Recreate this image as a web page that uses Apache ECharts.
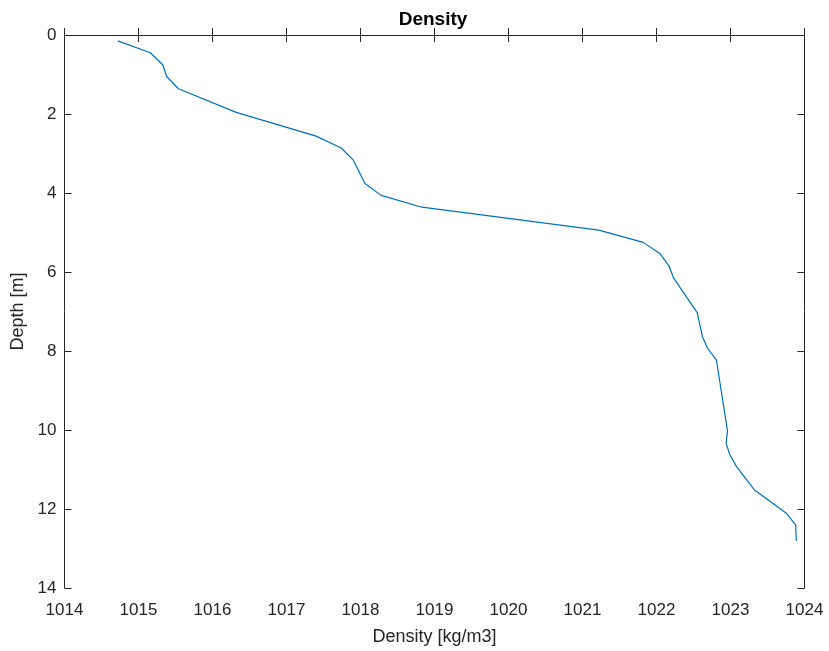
<!DOCTYPE html>
<html>
<head>
<meta charset="utf-8">
<script src="https://cdn.jsdelivr.net/npm/echarts@6/dist/echarts.min.js"></script>
<style>
  html, body { margin: 0; padding: 0; background: #fff; }
  #chart { width: 829px; height: 651px; }
</style>
</head>
<body>
<div id="chart"></div>
<script>
// Density profile: depth (m) and density (kg/m3) at each sample
const depth = [0.15, 0.45, 0.76, 1.05, 1.36, 1.96, 2.56, 2.86, 3.16, 3.76, 4.06, 4.36,
  4.94, 5.25, 5.54, 5.85, 6.15, 7.03, 7.63, 7.93, 8.23, 8.83, 10.03, 10.33, 10.62,
  10.92, 11.51, 12.10, 12.40, 12.81];
const density = [1014.72, 1015.16, 1015.33, 1015.38, 1015.54, 1016.32, 1017.40, 1017.74,
  1017.90, 1018.06, 1018.28, 1018.83, 1021.22, 1021.82, 1022.05, 1022.17, 1022.23,
  1022.55, 1022.62, 1022.69, 1022.81, 1022.86, 1022.96, 1022.94, 1022.99, 1023.08,
  1023.32, 1023.75, 1023.88, 1023.89];
const xTicks = [1014, 1015, 1016, 1017, 1018, 1019, 1020, 1021, 1022, 1023, 1024];
const yTicks = [0, 2, 4, 6, 8, 10, 12, 14];

const FONT = '"Liberation Sans", Arial, Helvetica, sans-serif';
const AXIS = '#262626';

const points = depth.map((d, i) => [density[i], d]);

const boxAxisLine = { show: true, lineStyle: { color: AXIS, width: 1 } };
const boxTick = { show: true, inside: true, length: 7, lineStyle: { color: AXIS, width: 1 } };

const chart = echarts.init(document.getElementById('chart'), null, { renderer: 'canvas' });
chart.setOption({
  animation: false,
  backgroundColor: '#ffffff',
  graphic: [
    {
      type: 'text',
      x: 433,
      y: 19.5,
      style: {
        text: 'Density',
        fontFamily: FONT,
        fontWeight: 'bold',
        fontSize: 19,
        fill: '#000',
        align: 'center',
        verticalAlign: 'middle'
      }
    }
  ],
  grid: { left: 64.5, right: 24.5, top: 35, bottom: 61, containLabel: false },
  xAxis: [
    {
      type: 'value',
      position: 'bottom',
      min: xTicks[0],
      max: xTicks[xTicks.length - 1],
      interval: 1,
      name: 'Density [kg/m3]',
      nameLocation: 'middle',
      nameGap: 40,
      nameTextStyle: { fontFamily: FONT, fontSize: 18, color: AXIS },
      axisLine: boxAxisLine,
      axisTick: boxTick,
      splitLine: { show: false },
      axisLabel: { fontFamily: FONT, fontSize: 17, color: AXIS, margin: 14,
        formatter: v => String(v) }
    },
    {
      type: 'value',
      position: 'top',
      min: xTicks[0],
      max: xTicks[xTicks.length - 1],
      interval: 1,
      axisLine: boxAxisLine,
      axisTick: boxTick,
      axisLabel: { show: false },
      splitLine: { show: false }
    }
  ],
  yAxis: [
    {
      type: 'value',
      position: 'left',
      inverse: true,
      min: yTicks[0],
      max: yTicks[yTicks.length - 1],
      interval: 2,
      name: 'Depth [m]',
      nameLocation: 'middle',
      nameGap: 35,
      nameRotate: 90,
      nameTextStyle: { fontFamily: FONT, fontSize: 18, color: AXIS },
      axisLine: boxAxisLine,
      axisTick: boxTick,
      splitLine: { show: false },
      axisLabel: { fontFamily: FONT, fontSize: 17, color: AXIS, margin: 8 }
    },
    {
      type: 'value',
      position: 'right',
      inverse: true,
      min: yTicks[0],
      max: yTicks[yTicks.length - 1],
      interval: 2,
      axisLine: boxAxisLine,
      axisTick: boxTick,
      axisLabel: { show: false },
      splitLine: { show: false }
    }
  ],
  series: [
    {
      type: 'line',
      xAxisIndex: 0,
      yAxisIndex: 0,
      data: points,
      showSymbol: false,
      symbol: 'none',
      lineStyle: { color: '#0072BD', width: 1.2 },
      silent: true
    }
  ]
});
</script>
</body>
</html>
